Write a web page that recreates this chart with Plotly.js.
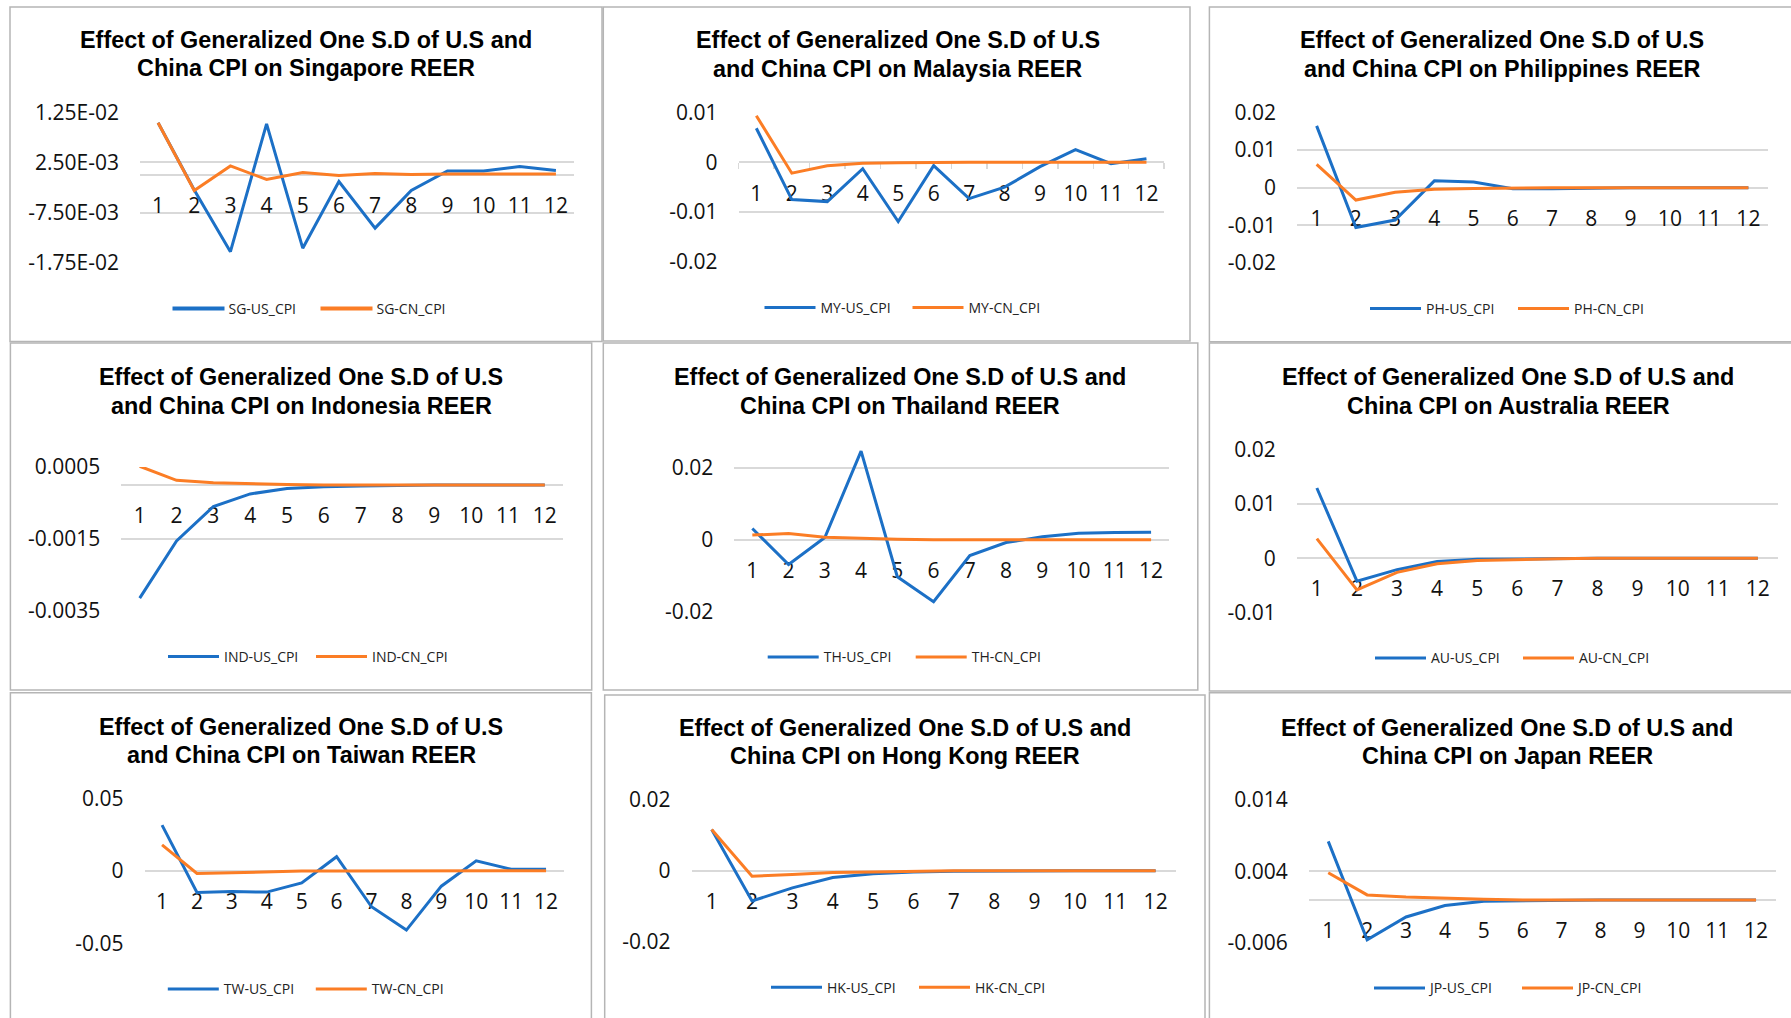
<!DOCTYPE html>
<html>
<head>
<meta charset="utf-8">
<script src="https://cdn.plot.ly/plotly-3.0.1.min.js"></script>
<style>
  html, body { margin: 0; padding: 0; background: #ffffff; }
  #chart { width: 1791px; height: 1018px; }
</style>
</head>
<body>
<div id="chart"></div>
<script>
// ---------------- DATA ----------------
const periods = ['1', '2', '3', '4', '5', '6', '7', '8', '9', '10', '11', '12'];

const codes = ['SG', 'MY', 'PH', 'IND', 'TH', 'AU', 'TW', 'HK', 'JP'];

const titleLine1 = [
  'Effect of Generalized One S.D of U.S and',
  'Effect of Generalized One S.D of U.S',
  'Effect of Generalized One S.D of U.S',
  'Effect of Generalized One S.D of U.S',
  'Effect of Generalized One S.D of U.S and',
  'Effect of Generalized One S.D of U.S and',
  'Effect of Generalized One S.D of U.S',
  'Effect of Generalized One S.D of U.S and',
  'Effect of Generalized One S.D of U.S and'
];
const titleLine2 = [
  'China CPI on Singapore REER',
  'and China CPI on Malaysia REER',
  'and China CPI on Philippines REER',
  'and China CPI on Indonesia REER',
  'China CPI on Thailand REER',
  'China CPI on Australia REER',
  'and China CPI on Taiwan REER',
  'China CPI on Hong Kong REER',
  'China CPI on Japan REER'
];

// Singapore
const sgUS = [0.0104, -0.0030, -0.0153, 0.0102, -0.0146, -0.0013, -0.0106, -0.0031, 0.0008, 0.0008, 0.0017, 0.0009];
const sgCN = [0.0104, -0.0031, 0.0018, -0.0009, 0.0005, -0.0001, 0.0003, 0.0001, 0.0002, 0.0002, 0.0002, 0.0002];
// Malaysia
const myUS = [0.0068, -0.0075, -0.0079, -0.0013, -0.0119, -0.0007, -0.0073, -0.0050, -0.0009, 0.0025, -0.0003, 0.0007];
const myCN = [0.0093, -0.0022, -0.0007, -0.0002, -0.0001, 0, 0, 0, 0, 0, 0, 0];
// Philippines
const phUS = [0.0164, -0.0106, -0.0086, 0.0018, 0.0015, -0.0003, -0.0003, -0.0001, 0, 0, 0, 0];
const phCN = [0.0062, -0.0033, -0.0012, -0.0004, -0.0002, 0, 0, 0, 0, 0, 0, 0];
// Indonesia
const indUS = [-0.00315, -0.00156, -0.00060, -0.00025, -0.00010, -0.00005, -0.00003, -0.00001, 0, 0, 0, 0];
const indCN = [0.00052, 0.00013, 0.00006, 0.00003, 0.00001, 0, 0, 0, 0, 0, 0, 0];
// Thailand
const thUS = [0.0031, -0.0069, 0.0006, 0.0246, -0.0103, -0.0172, -0.0044, -0.0008, 0.0008, 0.0018, 0.0020, 0.0021];
const thCN = [0.0013, 0.0017, 0.0007, 0.0003, 0.0001, 0, 0, 0, 0, 0, 0, 0];
// Australia
const auUS = [0.0129, -0.0042, -0.0021, -0.0006, -0.0002, -0.0001, 0, 0, 0, 0, 0, 0];
const auCN = [0.0036, -0.0058, -0.0026, -0.0010, -0.0004, -0.0002, -0.0001, 0, 0, 0, 0, 0];
// Taiwan
const twUS = [0.0315, -0.0149, -0.0143, -0.0147, -0.0083, 0.0097, -0.0248, -0.0409, -0.0106, 0.0069, 0.0011, 0.0011];
const twCN = [0.0179, -0.0018, -0.0014, -0.0007, -0.0002, -0.0001, 0, 0, 0, 0, 0, 0];
// Hong Kong
const hkUS = [0.0117, -0.0085, -0.0048, -0.0019, -0.0008, -0.0003, -0.0001, 0, 0, 0, 0, 0];
const hkCN = [0.0117, -0.0015, -0.0010, -0.0005, -0.0003, -0.0001, 0, 0, 0, 0, 0, 0];
// Japan
const jpUS = [0.0082, -0.0056, -0.0024, -0.0008, -0.0002, -0.0001, 0, 0, 0, 0, 0, 0];
const jpCN = [0.0038, 0.0007, 0.0004, 0.0002, 0.0001, 0, 0, 0, 0, 0, 0, 0];

const usSeries = [sgUS, myUS, phUS, indUS, thUS, auUS, twUS, hkUS, jpUS];
const cnSeries = [sgCN, myCN, phCN, indCN, thCN, auCN, twCN, hkCN, jpCN];

// y tick values and labels
const yTickVals = [
  [0.0125, 0.0025, -0.0075, -0.0175],
  [0.01, 0, -0.01, -0.02],
  [0.02, 0.01, 0, -0.01, -0.02],
  [0.0005, -0.0015, -0.0035],
  [0.02, 0, -0.02],
  [0.02, 0.01, 0, -0.01],
  [0.05, 0, -0.05],
  [0.02, 0, -0.02],
  [0.014, 0.004, -0.006]
];
const yTickText = [
  ['1.25E-02', '2.50E-03', '-7.50E-03', '-1.75E-02'],
  ['0.01', '0', '-0.01', '-0.02'],
  ['0.02', '0.01', '0', '-0.01', '-0.02'],
  ['0.0005', '-0.0015', '-0.0035'],
  ['0.02', '0', '-0.02'],
  ['0.02', '0.01', '0', '-0.01'],
  ['0.05', '0', '-0.05'],
  ['0.02', '0', '-0.02'],
  ['0.014', '0.004', '-0.006']
];
const yRanges = [
  [-0.0175, 0.0125],
  [-0.02, 0.01],
  [-0.02, 0.02],
  [-0.0035, 0.0005],
  [-0.02, 0.025],
  [-0.01, 0.02],
  [-0.05, 0.05],
  [-0.02, 0.02],
  [-0.006, 0.014]
];

// ---------------- LAYOUT (pixels) ----------------
const W = 1791, H = 1018;
// plot area: [left, right, top, bottom]
const plotBoxes = [
  [140, 574, 112.3, 262.7],
  [738.6, 1164.2, 112.3, 262.0],
  [1297, 1768, 112.3, 263.0],
  [121.3, 563.2, 467.0, 610.7],
  [734.2, 1169.2, 449.7, 611.7],
  [1296.8, 1777.9, 449.3, 612.7],
  [144.6, 563.5, 798.3, 943.3],
  [691.5, 1175.8, 800.0, 941.7],
  [1308.8, 1775.5, 800.0, 942.7]
];
// title centre x, first line centre y, second line centre y
const titlePos = [
  [305.6, 40, 67.5], [897.5, 40, 68.5], [1502, 40, 68.5],
  [301, 377, 405.5], [900.4, 377, 405.5], [1508, 377, 405.5],
  [301, 727, 755], [904.5, 728, 756], [1507, 728, 756]
];
// legend centre
const legendPos = [
  [315.5, 309], [907.5, 308], [1513, 309],
  [311, 657], [910.7, 657.3], [1518, 658.3],
  [310.8, 989.3], [914, 987.7], [1517, 988.3]
];
// panel frames: [x0, y0, x1, y1]
const panelFrames = [
  [10, 7, 602, 341.5], [603.3, 7, 1190, 341], [1209.4, 7, 1800, 341.7],
  [10.4, 343, 591.7, 690], [603.3, 343, 1197.8, 690], [1209.4, 343, 1800, 691],
  [10.4, 692.7, 591.4, 1030], [604.7, 695, 1205, 1030], [1209.4, 692.7, 1800, 1030]
];

const BLUE = '#1c70c6';
const ORANGE = '#fb7d25';
const GRID = '#d9d9d9';
const TICKFONT = { family: 'Open Sans, Liberation Sans, sans-serif', size: 21, color: '#111111' };
const LEGFONT = { family: 'Open Sans, Liberation Sans, sans-serif', size: 14, color: '#222222' };
const TITLEFONT = { family: 'Liberation Sans, Arial, sans-serif', size: 23.4, color: '#000000', weight: 700 };
const LEGEND_SWATCH = 52;

const fx = p => p / W;
const fy = p => 1 - p / H;

const traces = [];
const layout = {
  width: W, height: H,
  margin: { l: 0, r: 0, t: 0, b: 0 },
  paper_bgcolor: '#ffffff',
  plot_bgcolor: 'rgba(0,0,0,0)',
  showlegend: true,
  annotations: [],
  shapes: []
};

for (let i = 0; i < 9; i++) {
  const n = i === 0 ? '' : String(i + 1);
  const xid = 'x' + n, yid = 'y' + n;
  const legId = 'legend' + n;
  const box = plotBoxes[i];
  const rng = yRanges[i];
  const zeroPx = box[2] + (rng[1] - 0) / (rng[1] - rng[0]) * (box[3] - box[2]);
  const isMY = codes[i] === 'MY';

  layout['xaxis' + n] = {
    domain: [fx(box[0]), fx(box[1])],
    anchor: 'free',
    position: fy(zeroPx),
    type: 'category',
    range: [-0.5, 11.5],
    showgrid: false,
    zeroline: false,
    showline: true,
    linecolor: GRID,
    linewidth: 2,
    ticks: isMY ? 'outside' : '',
    tickson: 'boundaries',
    ticklen: 6,
    tickwidth: 1.5,
    tickcolor: GRID,
    ticklabelstandoff: isMY ? 13 : 12,
    tickfont: TICKFONT,
    layer: 'below traces',
    fixedrange: true
  };
  layout['yaxis' + n] = {
    domain: [fy(box[3]), fy(box[2])],
    anchor: xid,
    range: rng,
    tickmode: 'array',
    tickvals: yTickVals[i],
    ticktext: yTickText[i],
    showgrid: true,
    gridcolor: GRID,
    gridwidth: 2,
    zeroline: false,
    showline: false,
    ticks: '',
    ticklabelstandoff: 20,
    tickfont: TICKFONT,
    layer: 'below traces',
    fixedrange: true
  };
  layout[legId] = {
    orientation: 'h',
    x: fx(legendPos[i][0]), y: fy(legendPos[i][1]),
    xanchor: 'center', yanchor: 'middle',
    font: LEGFONT,
    bgcolor: 'rgba(0,0,0,0)',
    borderwidth: 0,
    itemwidth: 51,
    entrywidth: 82,
    itemclick: false, itemdoubleclick: false
  };

  traces.push({
    x: periods, y: usSeries[i], xaxis: xid, yaxis: yid,
    type: 'scatter', mode: 'lines', name: codes[i] + '-US_CPI',
    line: { color: BLUE, width: 3 }, legend: legId, hoverinfo: 'skip'
  });
  traces.push({
    x: periods, y: cnSeries[i], xaxis: xid, yaxis: yid,
    type: 'scatter', mode: 'lines', name: codes[i] + '-CN_CPI',
    line: { color: ORANGE, width: 3 }, legend: legId, hoverinfo: 'skip'
  });

  layout.annotations.push({
    xref: 'paper', yref: 'paper', x: fx(titlePos[i][0]), y: fy(titlePos[i][1]),
    xanchor: 'center', yanchor: 'middle', showarrow: false,
    text: titleLine1[i], font: TITLEFONT
  });
  layout.annotations.push({
    xref: 'paper', yref: 'paper', x: fx(titlePos[i][0]), y: fy(titlePos[i][2]),
    xanchor: 'center', yanchor: 'middle', showarrow: false,
    text: titleLine2[i], font: TITLEFONT
  });

  const f = panelFrames[i];
  layout.shapes.push({
    type: 'rect', xref: 'paper', yref: 'paper',
    x0: fx(f[0]), x1: fx(f[2]), y0: fy(f[3]), y1: fy(f[1]),
    line: { color: '#b5b5b5', width: 1.5 }, fillcolor: 'rgba(0,0,0,0)', layer: 'below'
  });
}

Plotly.newPlot('chart', traces, layout, { staticPlot: true, displayModeBar: false }).then(gd => {
  // lengthen the legend line swatches to match the Excel-style legend keys
  gd.querySelectorAll('.legend path.js-line').forEach(p => {
    p.setAttribute('d', 'M5,0h' + LEGEND_SWATCH);
    p.style.strokeWidth = '4px';
  });
});
</script>
</body>
</html>
